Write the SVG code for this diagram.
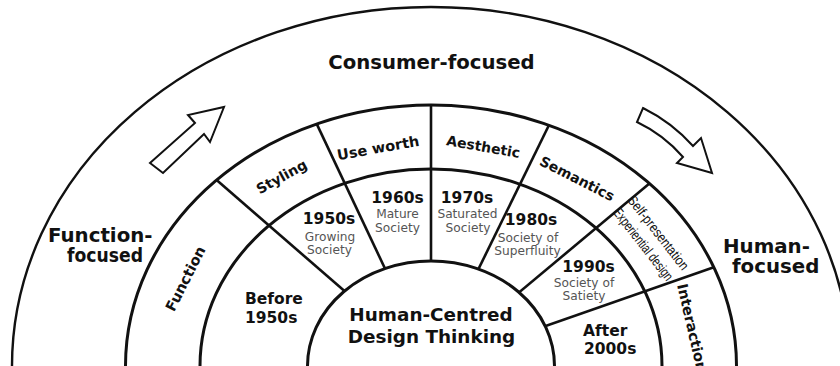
<svg xmlns="http://www.w3.org/2000/svg" width="840" height="366" viewBox="0 0 840 366">
<style>
.ring{fill:none;stroke:#111;stroke-width:3}
.core{fill:#fff;stroke:#111;stroke-width:3}
.outer{fill:none;stroke:#111;stroke-width:2.4}
.div{stroke:#111;stroke-width:2.6;fill:none}
.arrow{fill:#fff;stroke:#111;stroke-width:2;stroke-linejoin:miter}
.b{font-family:"DejaVu Sans",Verdana,sans-serif;font-weight:bold;fill:#111}
.s{font-family:"DejaVu Sans",Verdana,sans-serif;fill:#555;font-size:12.2px;text-anchor:middle}
.n{font-family:"Liberation Sans",Arial,sans-serif;fill:#111;font-size:14px}
.m{text-anchor:middle}
</style>
<rect width="840" height="366" fill="#fff"/>
<g id="connectors">
<line class="div" x1="431" y1="366" x2="216.6" y2="180.1"/>
<line class="div" x1="431" y1="366" x2="316.7" y2="123.9"/>
<line class="div" x1="431" y1="366" x2="431" y2="105"/>
<line class="div" x1="431" y1="366" x2="548.9" y2="125.2"/>
<line class="div" x1="431" y1="366" x2="649.4" y2="183.5"/>
<line class="div" x1="431" y1="366" x2="713.8" y2="267.2"/>
</g>
<g id="rings">
<ellipse class="outer" cx="431" cy="366" rx="419" ry="359"/>
<ellipse class="ring" cx="431" cy="366" rx="305.5" ry="261"/>
<ellipse class="ring" cx="431" cy="366" rx="231" ry="197"/>
<ellipse class="core" cx="431" cy="366" rx="123.5" ry="105"/>
</g>
<g id="arrows">
<polygon id="arrow-left" class="arrow" points="150,163 195,123 188,115 224,107 210,142 204,134 163,173"/>
<path id="arrow-right" class="arrow" d="M643,108 Q671.6,122.2 693,146 L701,138 L712,173 L677,163 L683,157 Q663.6,134.7 637,122 Z"/>
</g>
<g id="node-consumer"><text class="b m" x="431.5" y="69" font-size="19.7">Consumer-focused</text></g>
<g id="node-function-focused">
<text class="b" x="48" y="242" font-size="19.8">Function-</text>
<text class="b" x="67" y="262" font-size="19.8" textLength="76" lengthAdjust="spacingAndGlyphs">focused</text>
</g>
<g id="node-human-focused">
<text class="b" x="723" y="253" font-size="19.8">Human-</text>
<text class="b" x="732" y="273" font-size="19.8">focused</text>
</g>
<g id="node-center">
<text class="b m" x="431" y="321" font-size="18.4">Human-Centred</text>
<text class="b m" x="431.5" y="343" font-size="18.4">Design Thinking</text>
</g>
<g id="node-function"><text class="b m" x="190" y="281" font-size="14.5" transform="rotate(-63 190 281)">Function</text></g>
<g id="node-styling"><text class="b m" x="284" y="181" font-size="14" transform="rotate(-29 284 181)">Styling</text></g>
<g id="node-useworth"><text class="b m" x="379" y="153" font-size="14.5" transform="rotate(-10 379 153)">Use worth</text></g>
<g id="node-aesthetic"><text class="b m" x="482.5" y="151.5" font-size="14" transform="rotate(10 482.5 151.5)">Aesthetic</text></g>
<g id="node-semantics"><text class="b m" x="575" y="183" font-size="14" transform="rotate(27 575 183)">Semantics</text></g>
<g id="node-self">
<text class="n" x="626.8" y="200.3" textLength="90" lengthAdjust="spacingAndGlyphs" transform="rotate(52 626.8 200.3)">Self-presentation</text>
<text class="n" x="612.4" y="212.6" textLength="88" lengthAdjust="spacingAndGlyphs" transform="rotate(52 612.4 212.6)">Experiential design</text>
</g>
<g id="node-interaction"><text class="b" x="677" y="285" font-size="14.5" transform="rotate(77 677 285)">Interaction</text></g>
<g id="node-before1950"><text class="b" x="245" y="304" font-size="15.5">Before</text><text class="b" x="245" y="323" font-size="15.5">1950s</text></g>
<g id="node-1950"><text class="b m" x="329" y="224" font-size="15.5">1950s</text><text class="s" x="330" y="241">Growing</text><text class="s" x="329.5" y="254">Society</text></g>
<g id="node-1960"><text class="b m" x="397.5" y="203" font-size="15.5">1960s</text><text class="s" x="397.5" y="218">Mature</text><text class="s" x="397.5" y="232">Society</text></g>
<g id="node-1970"><text class="b m" x="467" y="203" font-size="15.5">1970s</text><text class="s" x="467.5" y="218">Saturated</text><text class="s" x="468" y="232">Society</text></g>
<g id="node-1980"><text class="b m" x="531" y="225" font-size="15.5">1980s</text><text class="s" x="528" y="242">Society of</text><text class="s" x="527.5" y="255">Superfluity</text></g>
<g id="node-1990"><text class="b m" x="588.5" y="272" font-size="15.5">1990s</text><text class="s" x="584" y="287">Society of</text><text class="s" x="584" y="300">Satiety</text></g>
<g id="node-after2000"><text class="b" x="583" y="336" font-size="15.5">After</text><text class="b" x="584" y="354" font-size="15.5">2000s</text></g>
</svg>
